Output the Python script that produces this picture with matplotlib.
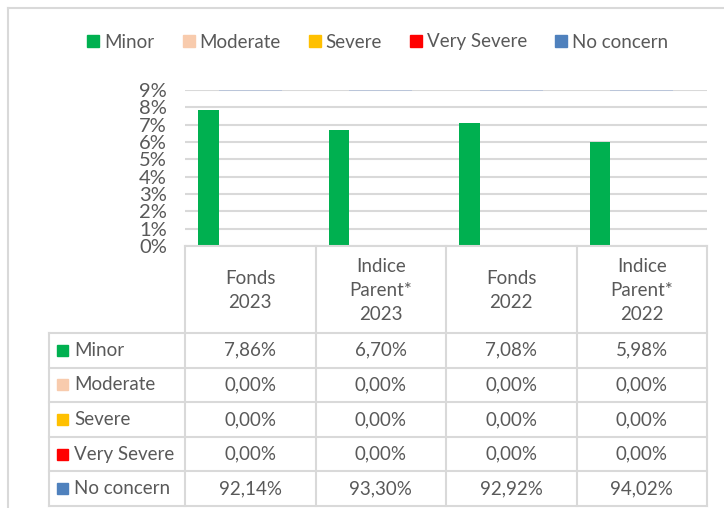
import numpy as np
import matplotlib.pyplot as plt
from matplotlib.patches import Rectangle
from matplotlib.lines import Line2D

plt.rcParams['font.family'] = ['Lato', 'DejaVu Sans']

categories = ['Fonds\n2023', 'Indice\nParent*\n2023', 'Fonds\n2022', 'Indice\nParent*\n2022']
series = ['Minor', 'Moderate', 'Severe', 'Very Severe', 'No concern']
minor = [7.86, 6.70, 7.08, 5.98]
moderate = [0.00, 0.00, 0.00, 0.00]
severe = [0.00, 0.00, 0.00, 0.00]
very_severe = [0.00, 0.00, 0.00, 0.00]
no_concern = [92.14, 93.30, 92.92, 94.02]
values = [minor, moderate, severe, very_severe, no_concern]
colors = ['#00b050', '#f8cbad', '#ffc000', '#ff0000', '#4f81bd']
yticks = np.arange(0, 10)

W, H = 724, 508
txt = '#595959'
grid = '#d9d9d9'
fs = 13.5

fig = plt.figure(figsize=(W/100, H/100), dpi=100)

# plot area (pixel coords of reference)
px_l, px_r, px_top, px_bot = 185, 707, 90, 246
ax = fig.add_axes([px_l/W, 1-px_bot/H, (px_r-px_l)/W, (px_bot-px_top)/H])
x = np.arange(len(categories))
bw = 0.16
for k, (name, vals, col) in enumerate(zip(series, values, colors)):
    if name == 'No concern':
        continue  # off the 0-9% scale, only its faint clipped top shows
    ax.bar(x + (k-2)*bw, vals, bw, color=col, zorder=3)
ax.hlines([yticks[-1]]*len(x), x - 1.5*bw, x + 1.5*bw, color='#b4c1d9', lw=1.2, zorder=3)
ax.set_xlim(-0.5, len(x)-0.5)
ax.set_ylim(0, yticks[-1])
ax.set_yticks(yticks)
ax.set_yticklabels([f'{t}%' for t in yticks], fontsize=14.5, color=txt)
ax.yaxis.set_tick_params(length=0, pad=13)
ax.set_xticks([])
ax.grid(axis='y', color=grid, lw=1.5, zorder=0)
for s in ax.spines.values():
    s.set_visible(False)

# legend
handles = [Line2D([], [], marker='s', ls='', color=c, markersize=9) for c in colors]
fig.legend(handles, series, loc='center', bbox_to_anchor=(376/W, 1-42/H), ncol=5,
           frameon=False, fontsize=fs, labelcolor=txt, handletextpad=0.05,
           columnspacing=1.35, handlelength=1.0)

# overlay in pixel coordinates for the data table and chart border
ov = fig.add_axes([0, 0, 1, 1])
ov.set_xlim(0, W)
ov.set_ylim(H, 0)
ov.axis('off')
ov.patch.set_alpha(0)

ov.plot([8, W], [8, 8], color=grid, lw=1.5)
ov.plot([8, 8], [8, H], color=grid, lw=1.5)

colw = (px_r - px_l) / len(categories)
col_edges = [px_l + i*colw for i in range(len(categories)+1)]
tbl_l = 49
head_bot = 333
row_h = (506 - head_bot) / len(series)
row_edges = [head_bot + i*row_h for i in range(len(series)+1)]

ov.plot([px_l, px_r], [px_bot, px_bot], color=grid, lw=1.5)
for yy in row_edges:
    ov.plot([tbl_l, px_r], [yy, yy], color=grid, lw=1.5)
for xx in col_edges:
    ov.plot([xx, xx], [px_bot, row_edges[-1]], color=grid, lw=1.5)
ov.plot([tbl_l, tbl_l], [head_bot, row_edges[-1]], color=grid, lw=1.5)

for i, cat in enumerate(categories):
    ov.text(col_edges[i] + colw/2, (px_bot + head_bot)/2 + 1, cat, ha='center', va='center',
            fontsize=fs, color=txt, linespacing=1.5)

for r, (name, vals, col) in enumerate(zip(series, values, colors)):
    yc = row_edges[r] + row_h/2
    ov.add_patch(Rectangle((57, yc - 5.5), 11, 11, color=col))
    ov.text(74, yc, name, ha='left', va='center', fontsize=fs, color=txt)
    for i, v in enumerate(vals):
        ov.text(col_edges[i] + colw/2, yc, f'{v:.2f}%'.replace('.', ','),
                ha='center', va='center', fontsize=fs, color=txt)

fig.savefig('out.png', dpi=100)
